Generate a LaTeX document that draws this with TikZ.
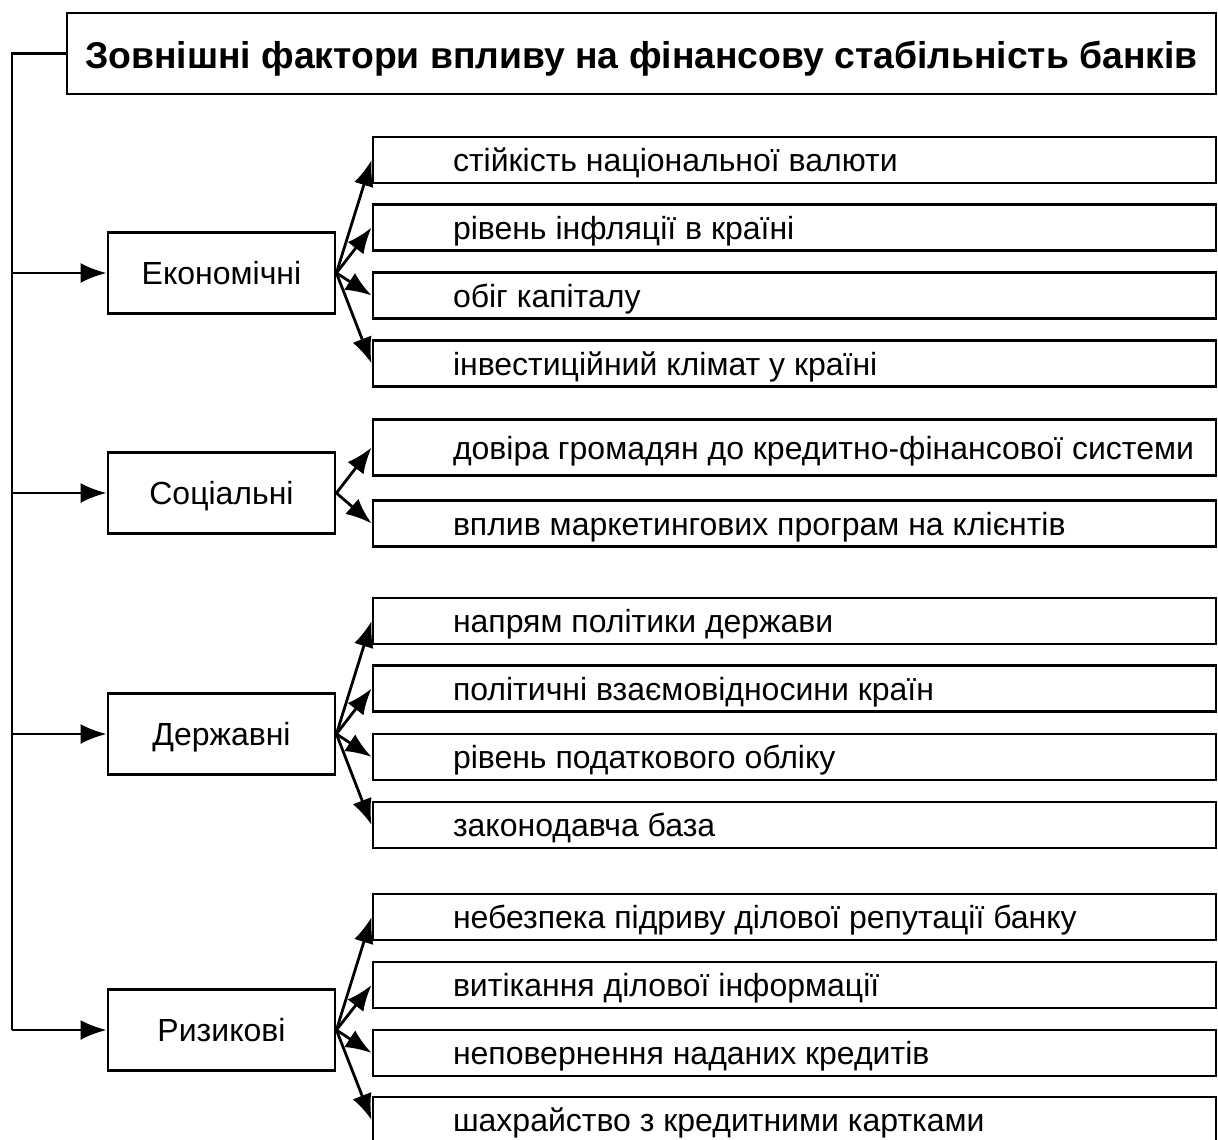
\documentclass[tikz,border=0pt]{standalone}
\usepackage{fontspec}
\setmainfont{Liberation Sans}
\usetikzlibrary{arrows.meta}
% left-aligned label inside a wide factor box
\newcommand\itemtext[1]{\makebox[683pt][l]{#1}}
\begin{document}
\begin{tikzpicture}[x=1pt,y=-1pt,line width=2.8pt,
  box/.style={draw,line width=2.8pt,inner sep=0pt},
  titlebox/.style={box,minimum width=1149pt,minimum height=81pt,text height=30pt,text depth=0pt,
    font=\fontsize{37.3}{42}\selectfont\bfseries},
  catbox/.style={box,minimum width=227pt,minimum height=81pt,text height=23pt,text depth=0pt,
    font=\fontsize{32}{36}\selectfont},
  itembox/.style={box,minimum width=843pt,minimum height=46pt,text height=23pt,text depth=0pt,
    font=\fontsize{32}{36}\selectfont},
  link/.style={-{Latex[length=26pt,width=20pt]},line width=2.8pt}]
\useasboundingbox (0,0) rectangle (1218,1140);

% heading
\node[titlebox] (title) at (641.5,53.5) {Зовнішні фактори впливу на фінансову стабільність банків};

% groups of factors
\node[catbox] (eco) at (221.5,273) {Економічні};
\node[catbox] (soc) at (221.5,493) {Соціальні};
\node[catbox] (gov) at (221.5,734) {Державні};
\node[catbox] (risk) at (221.5,1030) {Ризикові};

% individual factors
\node[itembox] (i1) at (794.5,160) {\itemtext{стійкість національної валюти}};
\node[itembox] (i2) at (794.5,227.5) {\itemtext{рівень інфляції в країні}};
\node[itembox] (i3) at (794.5,295.5) {\itemtext{обіг капіталу}};
\node[itembox] (i4) at (794.5,363.5) {\itemtext{інвестиційний клімат у країні}};
\node[itembox,minimum height=56pt] (i5) at (794.5,447.5) {\itemtext{довіра громадян до кредитно-фінансової системи}};
\node[itembox] (i6) at (794.5,523.5) {\itemtext{вплив маркетингових програм на клієнтів}};
\node[itembox] (i7) at (794.5,621) {\itemtext{напрям політики держави}};
\node[itembox] (i8) at (794.5,688.5) {\itemtext{політичні взаємовідносини країн}};
\node[itembox] (i9) at (794.5,757) {\itemtext{рівень податкового обліку}};
\node[itembox] (i10) at (794.5,825) {\itemtext{законодавча база}};
\node[itembox] (i11) at (794.5,917) {\itemtext{небезпека підриву ділової репутації банку}};
\node[itembox] (i12) at (794.5,985) {\itemtext{витікання ділової інформації}};
\node[itembox] (i13) at (794.5,1053) {\itemtext{неповернення наданих кредитів}};
\node[itembox] (i14) at (794.5,1120) {\itemtext{шахрайство з кредитними картками}};

% trunk line from the heading
\coordinate (bt) at (12,53.5);
\coordinate (bb) at (12,1030);
\draw (title.west) -- (bt) -- (bb);
\foreach \c in {eco,soc,gov,risk}
  \draw[link] (bt |- \c.west) -- (\c.west);

% fan-out to the factors
\foreach \i in {i1,i2,i3,i4} \draw[link] (eco.east) -- (\i.west);
\foreach \i in {i5,i6} \draw[link] (soc.east) -- (\i.west);
\foreach \i in {i7,i8,i9,i10} \draw[link] (gov.east) -- (\i.west);
\foreach \i in {i11,i12,i13,i14} \draw[link] (risk.east) -- (\i.west);
\end{tikzpicture}
\end{document}
